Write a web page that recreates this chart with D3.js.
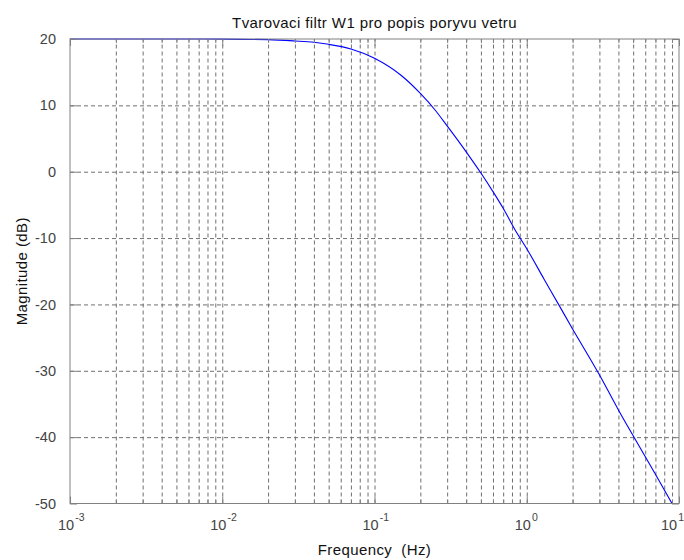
<!DOCTYPE html>
<html>
<head>
<meta charset="utf-8">
<script src="https://cdn.jsdelivr.net/npm/d3@7"></script>
<style>
  body { margin: 0; background: #fff; }
  text { font-family: "Liberation Sans", Arial, sans-serif; }
</style>
</head>
<body>
<div id="chart"></div>
<script>
// values (frequency in Hz, magnitude in dB)
var freqs = [0.001, 0.005, 0.01, 0.02, 0.03, 0.04, 0.05, 0.07, 0.1, 0.15, 0.2, 0.25, 0.3, 0.4, 0.5,
             0.6, 0.7, 0.85, 1.0, 1.3, 1.6, 2.0, 3.0, 4.0, 5.0, 7.0, 9.0];
var mags  = [20, 20, 19.98, 19.9, 19.7, 19.5, 19.2, 18.5, 17.1, 14.5, 11.8, 9.3, 6.9, 3.0, -0.2,
             -3.0, -5.5, -9.0, -11.6, -16.2, -19.8, -23.7, -30.6, -35.9, -39.8, -45.6, -50];
var yTicks = [-50, -40, -30, -20, -10, 0, 10, 20];
var xDecades = [-3, -2, -1, 0, 1];
var title = "Tvarovaci filtr W1 pro popis poryvu vetru";
var xTitle = "Frequency  (Hz)";
var yTitle = "Magnitude (dB)";

var W = 684, H = 560;
var margin = { top: 39, right: 5, bottom: 56.5, left: 70 };
var width = W - margin.left - margin.right,
    height = H - margin.top - margin.bottom;

var svg = d3.select("#chart").append("svg")
  .attr("width", W).attr("height", H);
var g = svg.append("g")
  .attr("transform", "translate(" + margin.left + "," + margin.top + ")");

var x = d3.scaleLog().domain([1e-3, 10]).range([0, width]);
var y = d3.scaleLinear().domain([-50, 20]).range([height, 0]);

// every 1..9 x 10^d for the minor grid
var allF = [];
xDecades.slice(0, -1).forEach(function(d) {
  for (var k = 1; k <= 9; k++) allF.push(k * Math.pow(10, d));
});
var majorF = xDecades.map(function(d) { return Math.pow(10, d); });
var minorF = allF.filter(function(f) { return majorF.indexOf(f) < 0; });

// grid
var grid = g.append("g").attr("class", "grid");
grid.append("g")
  .attr("transform", "translate(0," + height + ")")
  .call(d3.axisBottom(x).tickValues(allF.slice(1)).tickSize(-height).tickFormat(""));
grid.append("g")
  .call(d3.axisLeft(y).tickValues(yTicks.slice(1, -1)).tickSize(-width).tickFormat(""));
grid.selectAll(".domain").remove();
grid.selectAll("line")
  .attr("stroke", "#707070")
  .attr("stroke-width", 1)
  .attr("stroke-dasharray", "4,3");

// curve
var line = d3.line()
  .x(function(d, i) { return x(freqs[i]); })
  .y(function(d) { return y(d); })
  .curve(d3.curveMonotoneX);
g.append("path")
  .datum(mags)
  .attr("fill", "none")
  .attr("stroke", "#0000ff")
  .attr("stroke-width", 1.1)
  .attr("d", line);

// box
g.append("rect")
  .attr("width", width).attr("height", height)
  .attr("fill", "none").attr("stroke", "#808080").attr("stroke-width", 1);

// ticks, inside the box on all four sides
function styleTicks(sel) {
  sel.selectAll(".domain").remove();
  sel.selectAll("line").attr("stroke", "#808080");
}
g.append("g").attr("transform", "translate(0," + height + ")")
  .call(d3.axisBottom(x).tickValues(majorF).tickSize(-7).tickFormat("")).call(styleTicks);
g.append("g").attr("transform", "translate(0," + height + ")")
  .call(d3.axisBottom(x).tickValues(minorF).tickSize(-4).tickFormat("")).call(styleTicks);
g.append("g")
  .call(d3.axisTop(x).tickValues(majorF).tickSize(-7).tickFormat("")).call(styleTicks);
g.append("g")
  .call(d3.axisTop(x).tickValues(minorF).tickSize(-4).tickFormat("")).call(styleTicks);
var yAx = g.append("g")
  .call(d3.axisLeft(y).tickValues(yTicks).tickSize(-7).tickPadding(14)
    .tickFormat(function(d) { return String(d); }))
  .call(styleTicks);
yAx.selectAll("text")
  .attr("fill", "#444").style("font-size", "14.5px")
  .style("font-family", "'Liberation Sans', Arial, sans-serif");
g.append("g").attr("transform", "translate(" + width + ",0)")
  .call(d3.axisRight(y).tickValues(yTicks).tickSize(-7).tickFormat("")).call(styleTicks);

// x tick labels as 10 with a raised exponent
var xl = g.append("g").attr("class", "xlabels");
xDecades.forEach(function(d, i) {
  // the last label is nudged left so its exponent stays inside the page
  var shift = (i === xDecades.length - 1) ? -18 : -12;
  var t = xl.append("text")
    .attr("x", x(Math.pow(10, d)) + shift)
    .attr("y", height + 26.5)
    .attr("text-anchor", "start")
    .attr("fill", "#444")
    .style("font-size", "14.5px");
  t.append("tspan").text("10");
  t.append("tspan").attr("dy", -9).attr("dx", 1).style("font-size", "10.5px").text(String(d));
});

// titles
svg.append("text")
  .attr("x", margin.left + width / 2).attr("y", 28)
  .attr("text-anchor", "middle")
  .attr("fill", "#111")
  .style("font-size", "15px")
  .style("letter-spacing", "0.4px")
  .text(title);
svg.append("text")
  .attr("x", margin.left + width / 2).attr("y", 555)
  .attr("text-anchor", "middle")
  .attr("fill", "#111")
  .style("font-size", "15px")
  .style("letter-spacing", "0.4px")
  .style("white-space", "pre")
  .text(xTitle);
svg.append("text")
  .attr("transform", "translate(27," + (margin.top + height / 2) + ")rotate(-90)")
  .attr("text-anchor", "middle")
  .attr("fill", "#111")
  .style("font-size", "15px")
  .style("letter-spacing", "0.4px")
  .text(yTitle);
</script>
</body>
</html>
